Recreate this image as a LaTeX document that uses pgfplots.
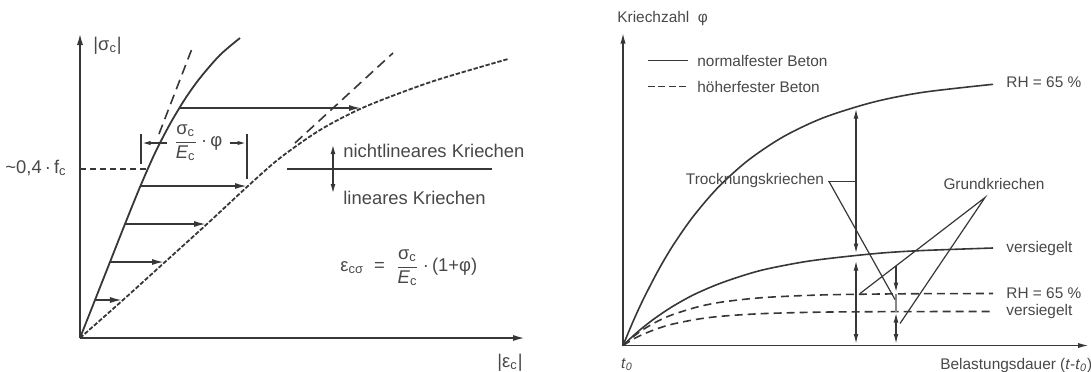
\documentclass[border=0pt]{standalone}
\usepackage{pgfplots}
\pgfplotsset{compat=1.18}
\usepackage{fontspec}
\setmainfont{Liberation Sans}
\usetikzlibrary{arrows.meta}
\definecolor{lc}{RGB}{55,55,55}
\definecolor{tc}{RGB}{72,72,72}
\newcommand\fL{\fontsize{9.2}{11}\selectfont}
\newcommand\fR{\fontsize{7.7}{9}\selectfont}
\begin{document}
\begin{tikzpicture}[
  ar/.style={-{Latex[length=6pt,width=3pt]}},
  ars/.style={-{Latex[length=4.5pt,width=2.2pt]}},
  arb/.style={-{Latex[length=5pt,width=2.4pt]}},
  arbb/.style={{Latex[length=5pt,width=2.4pt]}-{Latex[length=5pt,width=2.4pt]}},
]
\useasboundingbox (0,0) rectangle (545.5pt,185.5pt);
% ---------------- left diagram ----------------
\begin{axis}[at={(40pt,16.5pt)}, anchor=south west, x=0.5pt, y=0.5pt,
  xmin=0, xmax=445, ymin=0, ymax=305, axis lines*=left,
  axis line style={draw=lc, line width=0.9pt, -{Latex[length=6pt,width=3pt]}},
  xtick=\empty, ytick=\empty, clip=false, enlargelimits=false]
% instantaneous stress-strain curve
\addplot[lc, line width=0.9pt, smooth] coordinates {(0,0)(15,38)(30,76)(45,114)(60,151)(75,185)(90,214)(105,239)(120,260)(140,283)(160,300)};
% initial tangent
\addplot[lc, line width=0.8pt, dash pattern=on 5pt off 3pt] coordinates {(79,204)(113,292)};
% creep curve
\addplot[lc, line width=0.9pt, dash pattern=on 2.2pt off 0.9pt, smooth] coordinates {(0,0)(43,38)(85,76)(127,114)(168,152)(200,180)(240,208)(280,229)(320,245)(360,259)(428,279)};
% linear extension
\addplot[lc, line width=0.8pt, dash pattern=on 5pt off 3pt] coordinates {(215,195)(313,285)};
% creep arrows
\draw[lc, line width=0.8pt, ar] (15,38)--(42,38);
\draw[lc, line width=0.8pt, ar] (30,76)--(84,76);
\draw[lc, line width=0.8pt, ar] (45,114)--(126,114);
\draw[lc, line width=0.8pt, ar] (60.5,152)--(167,152);
\draw[lc, line width=0.8pt, ar] (100,230)--(281,230);
% 0.4 fc
\draw[lc, line width=0.8pt, dash pattern=on 3pt off 2pt] (0,169)--(67,169);
\node[anchor=east, text=tc, font=\fL, inner sep=1pt] at (-11,170) {\textasciitilde0,4\,·\,f\textsubscript{c}};
\node[anchor=west, text=tc, font=\fL, inner sep=1pt] at (11,292) {|σ\textsubscript{c}|};
\node[text=tc, font=\fL, inner sep=1pt] at (430,-25) {|ε\textsubscript{c}|};
% dimension
\draw[lc, line width=0.8pt] (61,174)--(61,204);
\draw[lc, line width=0.8pt] (167,159)--(167,204);
\draw[lc, line width=0.8pt, ars] (87,195)--(61.5,195);
\draw[lc, line width=0.8pt, ars] (150,195)--(166.5,195);
\node[anchor=west, text=tc, font=\fL, inner sep=1pt] at (91,195) {$\displaystyle\frac{\mbox{σ\textsubscript{c}}}{\mbox{\textit{E}\textsubscript{c}}}$\,·\,φ};
% nonlinear / linear creep
\draw[lc, line width=0.8pt] (207,169)--(412,169);
\draw[lc, line width=0.8pt, arbb] (253,194)--(253,144);
\node[anchor=west, text=tc, font=\fL, inner sep=1pt] at (261,187) {nichtlineares Kriechen};
\node[anchor=west, text=tc, font=\fL, inner sep=1pt] at (261,140) {lineares Kriechen};
\node[anchor=west, text=tc, font=\fL, inner sep=1pt] at (258,70) {ε\textsubscript{cσ}\ \ =\ \ $\displaystyle\frac{\mbox{σ\textsubscript{c}}}{\mbox{\textit{E}\textsubscript{c}}}$\,·\,(1+φ)};
\end{axis}
% ---------------- right diagram ----------------
\begin{axis}[at={(311.5pt,12.75pt)}, anchor=south west, x=0.5pt, y=0.5pt,
  xmin=0, xmax=466, ymin=0, ymax=313, axis lines*=left,
  axis line style={draw=lc, line width=0.8pt, -{Latex[length=5.5pt,width=2.6pt]}},
  xtick=\empty, ytick=\empty, clip=false, enlargelimits=false]
% normal strength, RH = 65 %
\addplot[lc, line width=0.8pt, smooth] coordinates {(0,0)(10,23.9)(20,45.6)(35,74.7)(50,100.1)(70,128.8)(95,158)(125,185.1)(160,208.6)(200,227.6)(250,243.3)(300,253.2)(370,261.2)};
% normal strength, sealed
\addplot[lc, line width=0.8pt, smooth] coordinates {(0,0)(10,9.5)(20,18.1)(32,27.3)(50,39.3)(72,51.4)(100,63.2)(137,74.9)(180,83.5)(217,88.3)(260,92.6)(300,95)(370,97.5)};
% high strength, RH = 65 %
\addplot[lc, line width=0.8pt, smooth, dash pattern=on 4pt off 2.5pt] coordinates {(0,0)(10,8.6)(20,15.9)(35,24.5)(50,31)(75,38.7)(100,43.6)(140,47.9)(200,50.6)(280,51.7)(370,52)};
% high strength, sealed
\addplot[lc, line width=0.8pt, smooth, dash pattern=on 4pt off 2.5pt] coordinates {(0,0)(10,6.2)(20,11.2)(35,17.1)(50,21.5)(75,26.4)(100,29.4)(140,31.9)(200,33.4)(280,33.9)(370,34)};
% legend
\draw[lc, line width=0.8pt] (25,285)--(65,285);
\draw[lc, line width=0.8pt, dash pattern=on 3.5pt off 1.7pt] (25,259)--(65,259);
\node[anchor=west, text=tc, font=\fR, inner sep=1pt] at (72,285) {normalfester Beton};
\node[anchor=west, text=tc, font=\fR, inner sep=1pt] at (72,259) {höherfester Beton};
% curve labels
\node[anchor=west, text=tc, font=\fR, inner sep=1pt] at (381,263) {RH = 65 \%};
\node[anchor=west, text=tc, font=\fR, inner sep=1pt] at (381,97) {versiegelt};
\node[anchor=west, text=tc, font=\fR, inner sep=1pt] at (381,52) {RH = 65 \%};
\node[anchor=west, text=tc, font=\fR, inner sep=1pt] at (381,34) {versiegelt};
% axis labels
\node[anchor=west, text=tc, font=\fR, inner sep=1pt] at (-8,327) {Kriechzahl\ \ φ};
\node[anchor=west, text=tc, font=\fR, inner sep=1pt] at (315,-20) {Belastungsdauer (\textit{t}-\textit{t}\textsubscript{\textit{0}})};
\node[text=tc, font=\fR, inner sep=1pt] at (4,-19) {\textit{t}\textsubscript{\textit{0}}};
% dimension arrows
\draw[lc, line width=0.7pt, arbb] (233,92)--(233,237);
\draw[lc, line width=0.7pt, arbb] (233,1.5)--(233,85);
\draw[lc, line width=0.7pt, arb] (273,80)--(273,53);
\draw[lc!60, line width=0.6pt] (273,52)--(273,34);
\draw[lc, line width=0.7pt, arbb] (273,1.5)--(273,33);
% leaders
\node[text=tc, font=\fR, inner sep=1pt] at (132,165) {Trocknungskriechen};
\draw[lc, line width=0.6pt] (205,164)--(233,164);
\draw[lc, line width=0.6pt] (206,164)--(272,46);
\node[text=tc, font=\fR, inner sep=1pt] at (371,162) {Grundkriechen};
\draw[lc, line width=0.6pt] (237,52)--(362,148)--(277,22);
\end{axis}
\end{tikzpicture}
\end{document}
